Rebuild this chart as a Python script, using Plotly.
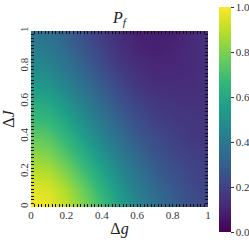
import plotly.graph_objects as go

dg = [0.0, 0.1, 0.2, 0.3, 0.4, 0.5, 0.6, 0.7, 0.8, 0.9, 1.0]
dJ = [0.0, 0.1, 0.2, 0.3, 0.4, 0.5, 0.6, 0.7, 0.8, 0.9, 1.0]

row_00 = [0.99, 0.97, 0.91, 0.81, 0.69, 0.57, 0.46, 0.37, 0.30, 0.25, 0.21]
row_01 = [0.96, 0.94, 0.87, 0.76, 0.64, 0.52, 0.42, 0.34, 0.28, 0.23, 0.20]
row_02 = [0.90, 0.88, 0.80, 0.69, 0.58, 0.47, 0.38, 0.30, 0.25, 0.21, 0.19]
row_03 = [0.83, 0.80, 0.72, 0.62, 0.51, 0.41, 0.33, 0.26, 0.22, 0.19, 0.18]
row_04 = [0.76, 0.73, 0.65, 0.55, 0.45, 0.36, 0.28, 0.23, 0.19, 0.17, 0.16]
row_05 = [0.68, 0.65, 0.58, 0.48, 0.39, 0.30, 0.24, 0.19, 0.17, 0.16, 0.15]
row_06 = [0.61, 0.58, 0.51, 0.42, 0.33, 0.25, 0.20, 0.16, 0.15, 0.14, 0.15]
row_07 = [0.54, 0.51, 0.44, 0.36, 0.28, 0.21, 0.16, 0.13, 0.13, 0.13, 0.14]
row_08 = [0.48, 0.45, 0.38, 0.31, 0.23, 0.17, 0.13, 0.11, 0.11, 0.12, 0.14]
row_09 = [0.43, 0.40, 0.34, 0.27, 0.20, 0.14, 0.10, 0.09, 0.10, 0.12, 0.14]
row_10 = [0.38, 0.36, 0.30, 0.23, 0.17, 0.12, 0.09, 0.08, 0.09, 0.11, 0.14]

z = [row_00, row_01, row_02, row_03, row_04, row_05, row_06, row_07, row_08, row_09, row_10]

tick_vals = [0, 0.2, 0.4, 0.6, 0.8, 1.0]
tick_text = ["0", "0.2", "0.4", "0.6", "0.8", "1"]
cbar_vals = [0.0, 0.2, 0.4, 0.6, 0.8, 1.0]
cbar_text = ["0.0", "0.2", "0.4", "0.6", "0.8", "1.0"]

FONT = "Liberation Serif"

fig = go.Figure(go.Heatmap(
    x=dg, y=dJ, z=z, zmin=0, zmax=1, colorscale="Viridis", zsmooth="best",
    colorbar=dict(
        thickness=12, len=225, lenmode="pixels",
        y=0.497, yanchor="middle", xref="container", x=219 / 249, xanchor="left",
        xpad=0, ypad=0,
        outlinewidth=0, ticks="outside", ticklen=3, tickcolor="#333",
        tickvals=cbar_vals, ticktext=cbar_text,
        tickfont=dict(family=FONT, size=11, color="#333"),
    ),
))

axis_common = dict(
    range=[0, 1], tickvals=tick_vals, ticktext=tick_text,
    showgrid=False, zeroline=False, ticks="inside", ticklen=3, tickcolor="#111",
    showline=False,
    tickfont=dict(family=FONT, size=11, color="#333"),
    minor=dict(ticks="inside", tick0=0, dtick=0.02, ticklen=3,
               tickcolor="#111", tickwidth=1, showgrid=False),
    mirror="allticks", layer="above traces",
)

fig.update_layout(
    width=249, height=242,
    margin=dict(l=31, r=41, t=31, b=35, autoexpand=False),
    paper_bgcolor="white", plot_bgcolor="white",
    title=dict(text="<i>P</i><sub><i>f</i></sub>", x=(31 + 208) / 2 / 249, xanchor="center",
               xref="container", y=1 - 17 / 242, yanchor="middle",
               font=dict(family=FONT, size=16, color="#222")),
    xaxis=dict(**axis_common, title=dict(text="Δ<i>g</i>", standoff=2,
               font=dict(family=FONT, size=16, color="#222"))),
    yaxis=dict(**axis_common, tickangle=-90,
               title=dict(text="Δ<i>J</i>", standoff=2,
                          font=dict(family=FONT, size=16, color="#222"))),
)

fig.write_html("out.html", config={"displayModeBar": False},
               post_script="document.body.style.margin='0';")
